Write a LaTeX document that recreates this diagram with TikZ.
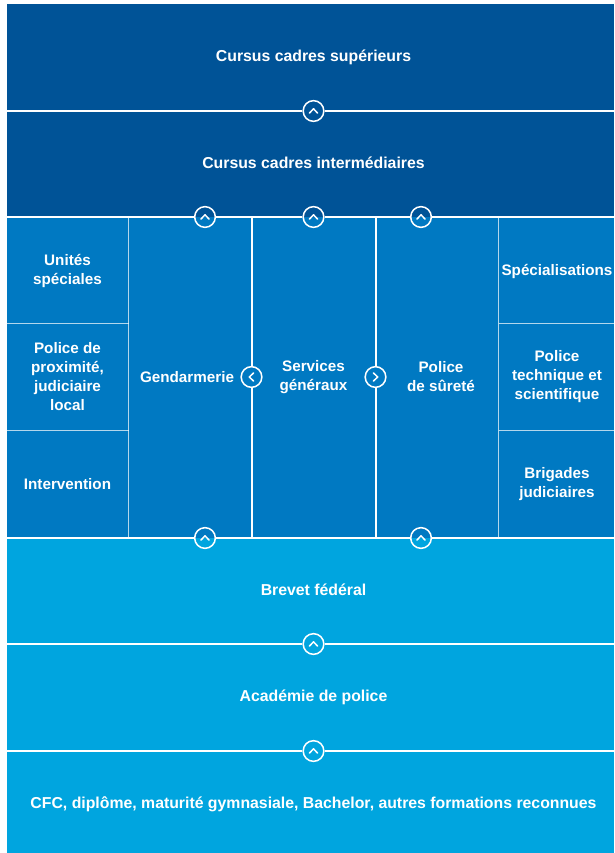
\documentclass[tikz,border=0pt]{standalone}
\usepackage{fontspec}
\setmainfont{Liberation Sans}
\usepackage{xcolor}

\definecolor{darkband}{RGB}{0,83,151}
\definecolor{midband}{RGB}{0,121,194}
\definecolor{lightband}{RGB}{0,165,223}

\tikzset{
  lbl/.style={text=white, align=center, font=\bfseries\fontsize{13}{16.2}\selectfont},
  bandlbl/.style={lbl, font=\bfseries\fontsize{13.5}{16.2}\selectfont},
  ring/.style={circle, draw=white, line width=1.3pt, minimum size=0.62cm, inner sep=0pt},
  sep/.style={white, line width=1.7pt},
  thinsep/.style={white, opacity=0.7, line width=0.8pt},
  chev/.style={white, line width=1.3pt, line cap=round, line join=round}
}

\begin{document}
\begin{tikzpicture}[x=0.03cm, y=-0.03cm]
\useasboundingbox (0,0) rectangle (614,853);
\fill [darkband] (7,4) rectangle (614,217);
\fill [midband] (7,217) rectangle (614,538);
\fill [lightband] (7,538) rectangle (614,853);

% thin grid of the side columns
\draw [thinsep] (128.5,217) -- (128.5,538);
\draw [thinsep] (498.5,217) -- (498.5,538);
\draw [thinsep] (7,323.5) -- (128.5,323.5);
\draw [thinsep] (7,430.5) -- (128.5,430.5);
\draw [thinsep] (498.5,323.5) -- (614,323.5);
\draw [thinsep] (498.5,430.5) -- (614,430.5);

% labels
\node [bandlbl] (sup) at (313.5,57) {Cursus cadres supérieurs};
\node [bandlbl] (inter) at (313.5,163) {Cursus cadres intermédiaires};
\node [lbl] (unites) at (67.5,271) {Unités\\spéciales};
\node [lbl] (proxi) at (67.5,377) {Police de\\proximité,\\judiciaire\\local};
\node [lbl] (interv) at (67.5,484) {Intervention};
\node [lbl] (gend) at (187,377) {Gendarmerie};
\node [lbl] (serv) at (313.5,377) {Services\\généraux};
\node [lbl] (surete) at (441,377) {Police\\de sûreté};
\node [lbl] (spec) at (557,271) {Spécialisations};
\node [lbl] (tech) at (557,377) {Police\\technique et\\scientifique};
\node [lbl] (brig) at (557,484) {Brigades\\judiciaires};
\node [bandlbl] (brevet) at (313.5,590) {Brevet fédéral};
\node [bandlbl] (academie) at (313.5,697) {Académie de police};
\node [bandlbl] (cfc) at (313.5,804) {CFC, diplôme, maturité gymnasiale, Bachelor, autres formations reconnues};

% rings
\node [ring] (a1) at (313.5,111) {};
\node [ring] (a2) at (205,217) {};
\node [ring] (a3) at (313.5,217) {};
\node [ring] (a4) at (421,217) {};
\node [ring] (a5) at (205,538) {};
\node [ring] (a6) at (421,538) {};
\node [ring] (a7) at (313.5,644) {};
\node [ring] (a8) at (313.5,751) {};
\node [ring] (b1) at (251.5,377) {};
\node [ring] (b2) at (375.5,377) {};

% ends of the separators
\coordinate (h1w) at (7,111);
\coordinate (h1e) at (614,111);
\coordinate (h2w) at (7,217);
\coordinate (h2e) at (614,217);
\coordinate (h3w) at (7,538);
\coordinate (h3e) at (614,538);
\coordinate (h4w) at (7,644);
\coordinate (h4e) at (614,644);
\coordinate (h5w) at (7,751);
\coordinate (h5e) at (614,751);
\coordinate (v1n) at (251.5,217);
\coordinate (v1s) at (251.5,538);
\coordinate (v2n) at (375.5,217);
\coordinate (v2s) at (375.5,538);

\draw [sep] (h1w) -- (a1) -- (h1e);
\draw [sep] (h2w) -- (a2) -- (a3) -- (a4) -- (h2e);
\draw [sep] (h3w) -- (a5) -- (a6) -- (h3e);
\draw [sep] (h4w) -- (a7) -- (h4e);
\draw [sep] (h5w) -- (a8) -- (h5e);
\draw [sep] (v1n) -- (b1) -- (v1s);
\draw [sep] (v2n) -- (b2) -- (v2s);

% chevrons
\foreach \c in {a1,a2,a3,a4,a5,a6,a7,a8}
  \draw [chev] ([shift={(-4,2)}]\c.center) -- ([shift={(0,-2.2)}]\c.center) -- ([shift={(4,2)}]\c.center);
\draw [chev] ([shift={(2,-4)}]b1.center) -- ([shift={(-2.2,0)}]b1.center) -- ([shift={(2,4)}]b1.center);
\draw [chev] ([shift={(-2,-4)}]b2.center) -- ([shift={(2.2,0)}]b2.center) -- ([shift={(-2,4)}]b2.center);

\end{tikzpicture}
\end{document}
